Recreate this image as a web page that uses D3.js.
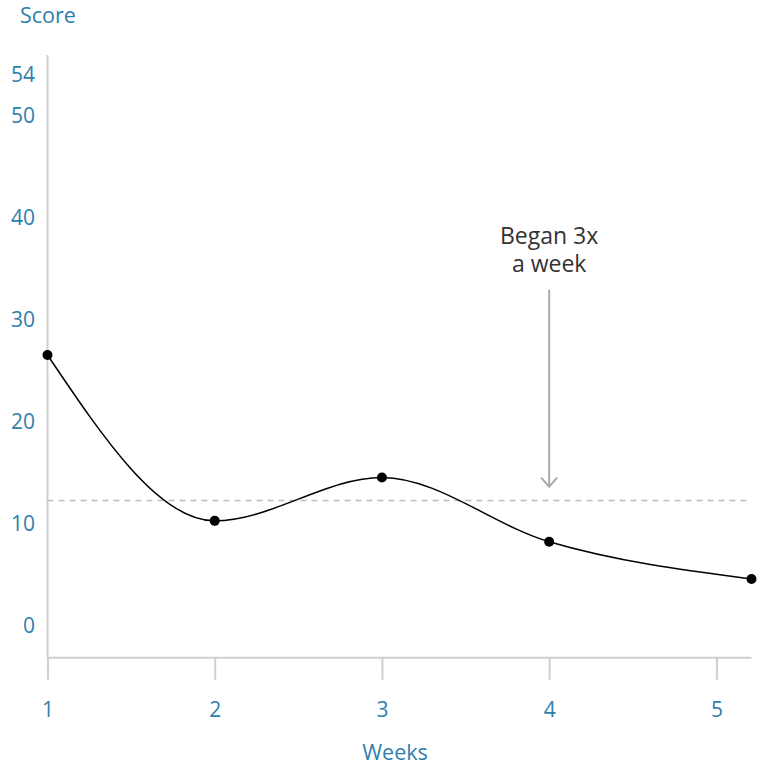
<!DOCTYPE html>
<html>
<head>
<meta charset="utf-8">
<script src="https://cdn.jsdelivr.net/npm/d3@7"></script>
<style>
  body { margin: 0; background: #fff; }
  text { font-family: "Open Sans", sans-serif; }
</style>
</head>
<body>
<div id="wrapper"></div>
<script>
// data
const weeks = [1, 2, 3, 4, 5.21];
const scores = [26.5, 10.25, 14.5, 8.2, 4.55];
const xTicks = [1, 2, 3, 4, 5];
const yTicks = [0, 10, 20, 30, 40, 50, 54];
const baseline = 12.25;
const noteWeek = 4;
const noteFrom = 32.9;
const noteTo = 13.6;
const noteLines = ["Began 3x", "a week"];

const width = 762;
const height = 765;
const blue = "#2f7fab";

const svg = d3.select("#wrapper").append("svg")
  .attr("width", width)
  .attr("height", height);

const xScale = d3.scaleLinear()
  .domain([1, 5.21])
  .range([47.5, 751.5]);

const yScale = d3.scaleLinear()
  .domain([-3.16, 55.9])
  .range([657.7, 55]);

// y axis line + labels (no ticks)
svg.append("line")
  .attr("x1", xScale(1)).attr("x2", xScale(1))
  .attr("y1", yScale(55.9)).attr("y2", yScale(-3.16))
  .attr("stroke", "#cfcfcf").attr("stroke-width", 2);

svg.append("g").selectAll("text")
  .data(yTicks)
  .join("text")
  .attr("x", 35)
  .attr("y", d => yScale(d))
  .attr("dy", "0.35em")
  .attr("text-anchor", "end")
  .attr("font-size", "21px")
  .attr("fill", blue)
  .text(d => d);

// x axis
const xAxis = d3.axisBottom(xScale)
  .tickValues(xTicks)
  .tickSize(22)
  .tickPadding(22)
  .tickFormat(d3.format("d"));

const axisX = svg.append("g")
  .attr("transform", `translate(0,${yScale(-3.16)})`)
  .call(xAxis);
axisX.select(".domain").attr("stroke", "#cfcfcf").attr("stroke-width", 2)
  .attr("d", `M${xScale(1)},0H${xScale(5.21)}`);
axisX.selectAll(".tick line").attr("stroke", "#cfcfcf").attr("stroke-width", 2);
axisX.selectAll(".tick text")
  .attr("font-family", "Open Sans, sans-serif")
  .attr("font-size", "21px")
  .attr("fill", blue);

// axis titles
svg.append("text")
  .attr("x", 20).attr("y", 23)
  .attr("font-size", "21.5px").attr("fill", blue)
  .text("Score");

svg.append("text")
  .attr("x", 395).attr("y", 760)
  .attr("text-anchor", "middle")
  .attr("font-size", "21.5px").attr("fill", blue)
  .text("Weeks");

// dashed baseline
svg.append("line")
  .attr("x1", xScale(1)).attr("x2", xScale(5.21))
  .attr("y1", yScale(baseline)).attr("y2", yScale(baseline))
  .attr("stroke", "#bdbdbd").attr("stroke-width", 1.5)
  .attr("stroke-dasharray", "6 5");

// annotation arrow
const ax = xScale(noteWeek);
svg.append("line")
  .attr("x1", ax).attr("x2", ax)
  .attr("y1", yScale(noteFrom)).attr("y2", yScale(noteTo))
  .attr("stroke", "#aaaaaa").attr("stroke-width", 2);
svg.append("path")
  .attr("d", `M${ax - 8},${yScale(noteTo) - 9}L${ax},${yScale(noteTo)}L${ax + 8},${yScale(noteTo) - 9}`)
  .attr("fill", "none")
  .attr("stroke", "#aaaaaa").attr("stroke-width", 2);

svg.append("g").selectAll("text")
  .data(noteLines)
  .join("text")
  .attr("x", ax)
  .attr("y", (d, i) => 244 + i * 27.5)
  .attr("text-anchor", "middle")
  .attr("font-size", "23px")
  .attr("fill", "#333")
  .text(d => d);

// line
const points = weeks.map((w, i) => [w, scores[i]]);
const line = d3.line()
  .x(d => xScale(d[0]))
  .y(d => yScale(d[1]))
  .curve(d3.curveMonotoneX);

svg.append("path")
  .datum(points)
  .attr("d", line)
  .attr("fill", "none")
  .attr("stroke", "#000")
  .attr("stroke-width", 1.5);

svg.append("g").selectAll("circle")
  .data(points)
  .join("circle")
  .attr("cx", d => xScale(d[0]))
  .attr("cy", d => yScale(d[1]))
  .attr("r", 5)
  .attr("fill", "#000");
</script>
</body>
</html>
